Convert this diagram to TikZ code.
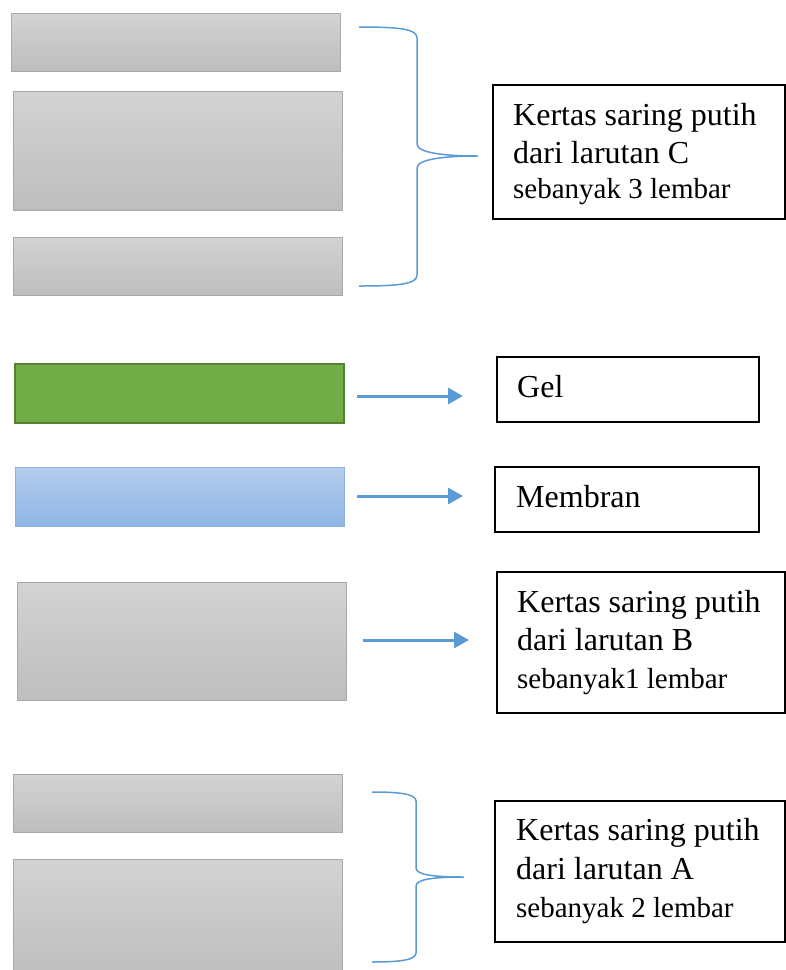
\documentclass[tikz,border=0pt]{standalone}
\usepackage{fontspec}
\setmainfont{Liberation Serif}
\usetikzlibrary{arrows.meta}
\definecolor{grayedge}{RGB}{168,168,168}
\definecolor{graytop}{RGB}{211,211,211}
\definecolor{graybot}{RGB}{190,190,190}
\definecolor{greenfill}{RGB}{112,173,71}
\definecolor{greenedge}{RGB}{84,130,53}
\definecolor{bluetop}{RGB}{181,205,238}
\definecolor{bluebot}{RGB}{143,181,228}
\definecolor{blueedge}{RGB}{140,178,226}
\definecolor{linkblue}{RGB}{91,155,213}
\tikzset{
  paper/.style={draw=grayedge, line width=1pt, top color=graytop, bottom color=graybot},
  gelbox/.style={draw=greenedge, line width=2pt, fill=greenfill},
  membox/.style={draw=blueedge, line width=1pt, top color=bluetop, bottom color=bluebot},
  labelbox/.style={draw=black, line width=1.3pt},
  bigtxt/.style={anchor=base west, inner sep=0pt, font=\fontsize{32}{38}\selectfont},
  smalltxt/.style={anchor=base west, inner sep=0pt, font=\fontsize{29}{34}\selectfont},
  arr/.style={draw=linkblue, line width=3pt, -{Triangle[length=15pt,width=16pt]}},
  bracestyle/.style={draw=linkblue, line width=1.5pt}
}
\begin{document}
\begin{tikzpicture}[x=1pt,y=-1pt]
\useasboundingbox (0,0) rectangle (786,970);
% left strips
\path[paper] (11,13) rectangle (340,71);
\path[paper] (13,91) rectangle (342,210);
\path[paper] (13,237) rectangle (342,295);
\path[gelbox] (15,364) rectangle (344,423);
\path[membox] (15,467) rectangle (344,526);
\path[paper] (17,582) rectangle (346,700);
\path[paper] (13,774) rectangle (342,832);
\path[paper] (13,859) rectangle (342,978);
% named anchors for strips
\coordinate (green) at (344,396);
\coordinate (blue) at (344,496);
\coordinate (grayB) at (346,640);
% label boxes
\path[labelbox] (493,85) rectangle (785,219);
\path[labelbox] (497,357) rectangle (759,422);
\path[labelbox] (495,467) rectangle (759,532);
\path[labelbox] (497,572) rectangle (785,713);
\path[labelbox] (495,801) rectangle (785,942);
\coordinate (tGel) at (497,396);
\coordinate (tMem) at (495,496);
\coordinate (tB) at (497,640);
% texts
\node[bigtxt] (c1) at (513,125) {Kertas saring putih};
\node[bigtxt] (c2) at (513,163) {dari larutan C};
\node[smalltxt] (c3) at (513,198) {sebanyak 3 lembar};
\node[bigtxt] (gel) at (517,397) {Gel};
\node[bigtxt] (mem) at (516,507) {Membran};
\node[bigtxt] (b1) at (517,612) {Kertas saring putih};
\node[bigtxt] (b2) at (517,650) {dari larutan B};
\node[smalltxt] (b3) at (517,688) {sebanyak1 lembar};
\node[bigtxt] (a1) at (516,840) {Kertas saring putih};
\node[bigtxt] (a2) at (516,879) {dari larutan A};
\node[smalltxt] (a3) at (516,917) {sebanyak 2 lembar};
% arrows
\draw[arr] ([xshift=13pt]green) -- ([xshift=-34pt]tGel);
\draw[arr] ([xshift=13pt]blue) -- ([xshift=-32pt]tMem);
\draw[arr] ([xshift=17pt]grayB) -- ([xshift=-28pt]tB);
% braces
\draw[bracestyle] (359,27) .. controls (400,27) and (417,29) .. (417,38) -- (417,144)
  .. controls (417,153) and (445,156) .. (478,156)
  .. controls (445,156) and (417,159) .. (417,168) -- (417,275)
  .. controls (417,284) and (400,286) .. (359,286);
\draw[bracestyle] (372,792) .. controls (400,792) and (416,794) .. (416,801) -- (416,868)
  .. controls (416,875) and (435,877) .. (464,877)
  .. controls (435,877) and (416,879) .. (416,886) -- (416,953)
  .. controls (416,960) and (400,962) .. (372,962);
\end{tikzpicture}
\end{document}
